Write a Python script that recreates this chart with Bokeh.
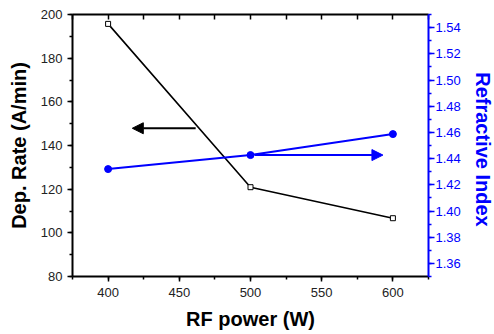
import math
from bokeh.plotting import figure
from bokeh.layouts import row
from bokeh.models import (LinearAxis, Range1d, SingleIntervalTicker, FixedTicker,
                          PrintfTickFormatter, Arrow, NormalHead, ColumnDataSource)
from bokeh.core.properties import value
from bokeh.embed import file_html
from bokeh.resources import INLINE

# ---- data ----
rf_power = [400, 500, 600]
dep_rate = [195.7, 120.9, 106.7]
refractive_index = [1.432, 1.4427, 1.4587]

x_ticks_interval = 50
top_ticks = list(range(375, 650, 25))
dep_arrow = dict(x_start=461.5, x_end=417, y=147.9)
ri_arrow = dict(x_start=503, x_end=593, y=1.4427)
ri_title = "Refractive Index"

BLUE = "#0000FF"
FONT = "Liberation Sans"
H = 332

p = figure(width=463, height=H, x_range=Range1d(375, 625), y_range=Range1d(80, 200),
           output_backend="svg", toolbar_location=None,
           x_axis_location=None, y_axis_location=None,
           min_border_left=72, min_border_right=34, min_border_top=14, min_border_bottom=56)
p.extra_y_ranges = {"ri": Range1d(1.35, 1.55)}
p.outline_line_color = None
p.grid.visible = False
p.background_fill_color = "white"
p.border_fill_color = "white"

def style_axis(ax, color):
    ax.axis_line_color = color
    ax.axis_line_width = 2
    ax.major_tick_line_color = color
    ax.minor_tick_line_color = color
    ax.major_tick_line_width = 1.5
    ax.minor_tick_line_width = 1.5
    ax.major_label_text_font = FONT
    ax.major_label_text_font_size = "13px"
    ax.major_label_text_color = color if color != "black" else "#222222"
    ax.axis_label_text_font = FONT
    ax.axis_label_text_font_size = "20px"
    ax.axis_label_text_font_style = "bold"
    ax.axis_label_text_color = color

# bottom
xb = LinearAxis(ticker=SingleIntervalTicker(interval=x_ticks_interval, num_minor_ticks=2),
                axis_label="RF power (W)")
style_axis(xb, "black")
xb.major_tick_in = 0; xb.major_tick_out = 5
xb.minor_tick_in = 0; xb.minor_tick_out = 3
xb.major_label_standoff = 6
xb.axis_label_standoff = 8
p.add_layout(xb, "below")

# top (ticks only, pointing inward)
xt = LinearAxis(ticker=FixedTicker(ticks=[], minor_ticks=top_ticks))
style_axis(xt, "black")
xt.major_tick_in = 0; xt.major_tick_out = 0
xt.minor_tick_in = 5; xt.minor_tick_out = 0
p.add_layout(xt, "above")

# left
yl = LinearAxis(ticker=SingleIntervalTicker(interval=20, num_minor_ticks=2),
                axis_label="Dep. Rate (A/min)")
style_axis(yl, "black")
yl.major_tick_in = 0; yl.major_tick_out = 5
yl.minor_tick_in = 0; yl.minor_tick_out = 3
yl.major_label_standoff = 5
yl.axis_label_standoff = 8
p.add_layout(yl, "left")

# right
yr = LinearAxis(y_range_name="ri",
                ticker=SingleIntervalTicker(interval=0.02, num_minor_ticks=2),
                formatter=PrintfTickFormatter(format="%.2f"))
style_axis(yr, BLUE)
yr.major_tick_in = 0; yr.major_tick_out = 6
yr.minor_tick_in = 0; yr.minor_tick_out = 3
yr.major_label_standoff = 1
p.add_layout(yr, "right")

src = ColumnDataSource(dict(x=rf_power, dep=dep_rate, ri=refractive_index))

p.line("x", "dep", source=src, line_color="black", line_width=1.6)
p.scatter("x", "dep", source=src, marker="square", size=5, fill_color="white",
          line_color="black", line_width=1)

p.line("x", "ri", source=src, y_range_name="ri", line_color=BLUE, line_width=2)
p.scatter("x", "ri", source=src, y_range_name="ri", marker="circle", size=7,
          fill_color=BLUE, line_color=BLUE)

p.add_layout(Arrow(x_start=dep_arrow["x_start"], x_end=dep_arrow["x_end"],
                   y_start=dep_arrow["y"], y_end=dep_arrow["y"],
                   line_color="black", line_width=2,
                   end=NormalHead(size=11, fill_color="black", line_color="black")))
p.add_layout(Arrow(x_start=ri_arrow["x_start"], x_end=ri_arrow["x_end"],
                   y_start=ri_arrow["y"], y_end=ri_arrow["y"], y_range_name="ri",
                   line_color=BLUE, line_width=2,
                   end=NormalHead(size=11, fill_color=BLUE, line_color=BLUE)))

# right-hand title panel (text reading top to bottom)
p2 = figure(width=31, height=H, x_range=Range1d(0, 1), y_range=Range1d(0, H),
            output_backend="svg", toolbar_location=None,
            x_axis_location=None, y_axis_location=None,
            min_border=0, min_border_left=0, min_border_right=0,
            min_border_top=0, min_border_bottom=0)
p2.outline_line_color = None
p2.grid.visible = False
p2.border_fill_color = "white"
p2.background_fill_color = "white"
p2.text(x=[0.64], y=[161], text=[ri_title], angle=-math.pi / 2,
        text_align="center", text_baseline="middle",
        text_font=value(FONT), text_font_size="20px", text_font_style="bold",
        text_color=BLUE)

layout = row(p, p2, spacing=0)
open("out.html", "w").write(file_html(layout, INLINE))
